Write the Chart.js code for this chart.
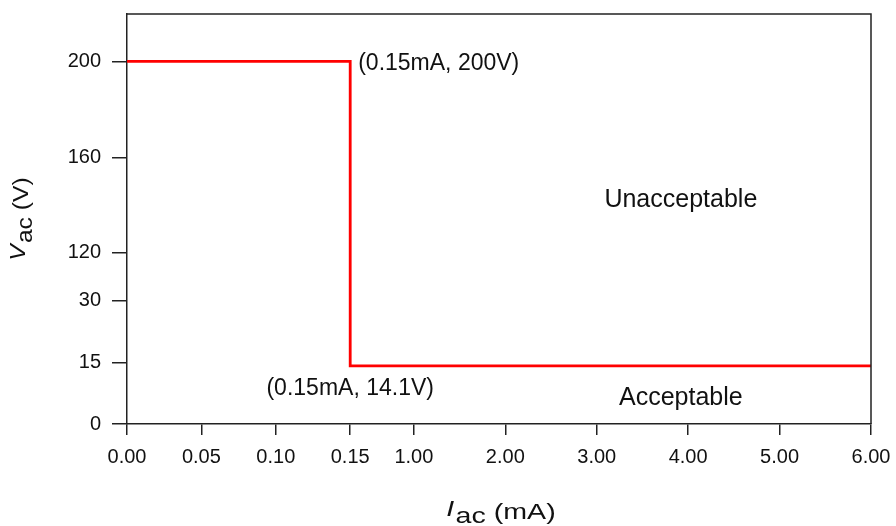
<!DOCTYPE html>
<html>
<head>
<meta charset="utf-8">
<script src="https://cdn.jsdelivr.net/npm/chart.js@4"></script>
<style>
  html, body { margin: 0; padding: 0; background: #fff; }
  #wrap { width: 896px; height: 526px; }
</style>
</head>
<body>
<div id="wrap"><canvas id="chart" width="896" height="526"></canvas></div>
<script>
// step limit curve
const currentMA = [0, 0.15, 0.15, 6];
const voltageV = [200, 200, 14.1, 14.1];

// tick labels
const xTickVals = [0, 0.05, 0.1, 0.15, 1, 2, 3, 4, 5, 6];
const xTickLabels = ["0.00", "0.05", "0.10", "0.15", "1.00", "2.00", "3.00", "4.00", "5.00", "6.00"];
const yTickVals = [0, 15, 30, 120, 160, 200];
const yTickLabels = ["0", "15", "30", "120", "160", "200"];

// broken axes: value breakpoints -> axis units
const xBreakVal = [0, 0.15, 1, 6];
const xBreakAxis = [0, 3, 3.856, 10];
const yBreakVal = [0, 15, 30, 120, 160, 200];
const yBreakAxis = [0, 1, 2, 2.776, 4.32, 5.873];

function piecewise(v, vals, axis) {
  for (let i = 1; i < vals.length; i++) {
    if (v <= vals[i] || i === vals.length - 1) {
      const t = (v - vals[i - 1]) / (vals[i] - vals[i - 1]);
      return axis[i - 1] + t * (axis[i] - axis[i - 1]);
    }
  }
}
const fx = v => piecewise(v, xBreakVal, xBreakAxis);
const fy = v => piecewise(v, yBreakVal, yBreakAxis);

const FONT = "'Liberation Sans', Arial, sans-serif";

// title with italic symbol + lowered subscript
function drawTitle(ctx, sym, rest) {
  const big = "22px " + FONT, it = "italic 22px " + FONT;
  ctx.font = it; const w1 = ctx.measureText(sym).width;
  ctx.font = big; const w2 = ctx.measureText("ac").width;
  const w3 = ctx.measureText(rest).width;
  let p = -(w1 + w2 + w3 + 1) / 2;
  ctx.font = it; ctx.fillText(sym, p, -3); p += w1 + 1;
  ctx.font = big; ctx.fillText("ac", p, 4); p += w2;
  ctx.fillText(rest, p, 0);
}

const overlay = {
  id: "overlay",
  afterDraw(chart) {
    const { ctx, chartArea: a, scales: { x, y } } = chart;
    ctx.save();
    // frame top/right
    ctx.strokeStyle = "#222";
    ctx.lineWidth = 1.5;
    ctx.beginPath();
    ctx.moveTo(a.left, a.top);
    ctx.lineTo(a.right, a.top);
    ctx.lineTo(a.right, a.bottom);
    ctx.stroke();

    ctx.fillStyle = "#111";
    ctx.textBaseline = "middle";
    ctx.font = "23px " + FONT;
    ctx.textAlign = "left";
    ctx.fillText("(0.15mA, 200V)", x.getPixelForValue(fx(0.15)) + 8, y.getPixelForValue(fy(200)) + 2);
    ctx.textAlign = "center";
    ctx.fillText("(0.15mA, 14.1V)", x.getPixelForValue(fx(0.15)), y.getPixelForValue(fy(14.1)) + 23);
    ctx.font = "25px " + FONT;
    ctx.fillText("Unacceptable", x.getPixelForValue(fx(3.92)), y.getPixelForValue(fy(142)));
    ctx.fillText("Acceptable", x.getPixelForValue(fx(3.92)), y.getPixelForValue(fy(6.3)));

    ctx.textBaseline = "alphabetic";
    ctx.textAlign = "left";
    // x title
    ctx.save();
    ctx.translate(501, 519);
    ctx.scale(1.3, 1);
    drawTitle(ctx, "I", " (mA)");
    ctx.restore();
    // y title
    ctx.save();
    ctx.translate(28, 219);
    ctx.rotate(-Math.PI / 2);
    ctx.scale(1.12, 1);
    drawTitle(ctx, "V", " (V)");
    ctx.restore();
    ctx.restore();
  }
};

new Chart(document.getElementById("chart"), {
  type: "scatter",
  data: {
    datasets: [{
      data: currentMA.map((c, i) => ({ x: fx(c), y: fy(voltageV[i]) })),
      showLine: true,
      borderColor: "#ff0000",
      borderWidth: 2.8,
      pointRadius: 0,
      fill: false
    }]
  },
  options: {
    responsive: false,
    animation: false,
    layout: { padding: { left: 0, top: 14, right: 25, bottom: 0 } },
    plugins: { legend: { display: false }, tooltip: { enabled: false } },
    scales: {
      x: {
        type: "linear",
        min: 0,
        max: 10,
        afterFit: s => { s.height = 102; s.paddingLeft = 0; s.paddingRight = 0; },
        afterBuildTicks: s => { s.ticks = xTickVals.map(v => ({ value: fx(v) })); },
        ticks: {
          autoSkip: false,
          maxRotation: 0,
          padding: 10,
          color: "#111",
          font: { family: FONT, size: 20 },
          callback: (v, i) => xTickLabels[i]
        },
        grid: { drawOnChartArea: false, drawTicks: true, tickLength: 11, color: "#222", lineWidth: 1.5 },
        border: { color: "#222", width: 1.5 }
      },
      y: {
        type: "linear",
        min: 0,
        max: 6.64,
        afterFit: s => { s.width = 127; s.paddingTop = 0; s.paddingBottom = 0; },
        afterBuildTicks: s => { s.ticks = yTickVals.map(v => ({ value: fy(v) })); },
        ticks: {
          autoSkip: false,
          padding: 11,
          color: "#111",
          font: { family: FONT, size: 20 },
          callback: (v, i) => yTickLabels[i]
        },
        grid: { drawOnChartArea: false, drawTicks: true, tickLength: 15, color: "#222", lineWidth: 1.5 },
        border: { color: "#222", width: 1.5 }
      }
    }
  },
  plugins: [overlay]
});
</script>
</body>
</html>
